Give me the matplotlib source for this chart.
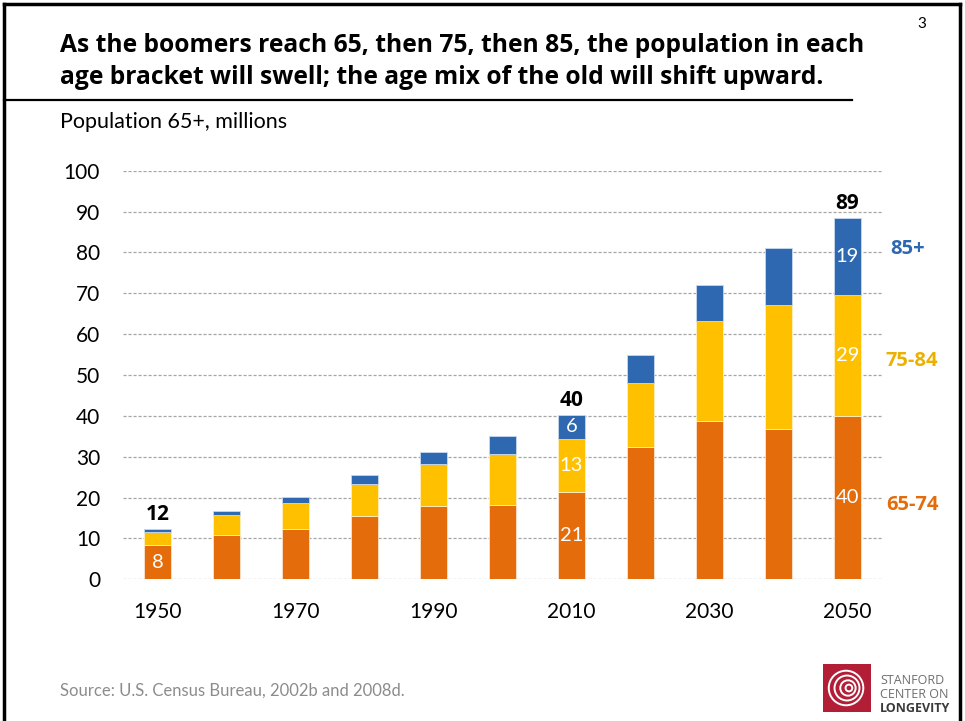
"""Population 65+ by age bracket, stacked bars (slide-style recreation)."""
import matplotlib

matplotlib.use("Agg")
import matplotlib.pyplot as plt
from matplotlib.patches import Rectangle, Circle
from matplotlib.lines import Line2D

plt.rcParams["font.family"] = ["Lato", "DejaVu Sans"]

years = [1950, 1960, 1970, 1980, 1990, 2000, 2010, 2020, 2030, 2040, 2050]
age_65_74 = [8.4, 10.9, 12.4, 15.6, 18.0, 18.3, 21.4, 32.3, 38.7, 36.9, 40.0]
age_75_84 = [3.25, 4.75, 6.2, 7.7, 10.1, 12.4, 13.0, 15.8, 24.6, 30.2, 29.5]
age_85_up = [0.55, 0.95, 1.5, 2.3, 3.1, 4.3, 5.8, 6.7, 8.7, 14.1, 19.0]

# printed labels (only a few bars are annotated)
lab_65_74 = ["8", "", "", "", "", "", "21", "", "", "", "40"]
lab_75_84 = ["", "", "", "", "", "", "13", "", "", "", "29"]
lab_85_up = ["", "", "", "", "", "", "6", "", "", "", "19"]
lab_total = ["12", "", "", "", "", "", "40", "", "", "", "89"]

series_names = ["65-74", "75-84", "85+"]
colors = ["#E46C0A", "#FFC000", "#2E68B1"]
label_colors = ["#E46C0A", "#EBB000", "#2E68B1"]

W, H = 965, 721
fig = plt.figure(figsize=(W / 100, H / 100), dpi=100)


def fx(px):
    return px / W


def fy(py):
    return 1 - py / H


# slide frame + title rule
fig.add_artist(Line2D([fx(4), fx(4)], [fy(4), 0], color="black", lw=2.5))
fig.add_artist(Line2D([fx(4), fx(960)], [fy(4), fy(4)], color="black", lw=2.5))
fig.add_artist(Line2D([fx(960), fx(960)], [fy(4), 0], color="black", lw=2.5))
fig.add_artist(Line2D([fx(4), fx(852)], [fy(100), fy(100)], color="black", lw=1.6))

title_font = ["Open Sans", "DejaVu Sans"]
fig.text(fx(60), fy(45), "As the boomers reach 65, then 75, then 85, the population in each",
         fontsize=17.7, fontweight="bold", va="center", ha="left", family=title_font)
fig.text(fx(60), fy(78), "age bracket will swell; the age mix of the old will shift upward.",
         fontsize=17.7, fontweight="bold", va="center", ha="left", family=title_font)
fig.text(fx(922), fy(24), "3", fontsize=11, va="center", ha="center")
fig.text(fx(60), fy(122), "Population 65+, millions", fontsize=15.5, va="center", ha="left")
fig.text(fx(60), fy(691), "Source: U.S. Census Bureau, 2002b and 2008d.",
         fontsize=12, color="#8C8C8C", va="center", ha="left")

# chart
ax = fig.add_axes([fx(123), fy(579.3), fx(881.7) - fx(123), (579.3 - 170.7) / H])
x = list(range(len(years)))
bw = 0.395
b1 = ax.bar(x, age_65_74, bw, color=colors[0], edgecolor="#FBE3CF", linewidth=0.6, zorder=3)
bottom2 = age_65_74
b2 = ax.bar(x, age_75_84, bw, bottom=bottom2, color=colors[1],
            edgecolor="#FFF0C0", linewidth=0.6, zorder=3)
bottom3 = [a + b for a, b in zip(age_65_74, age_75_84)]
b3 = ax.bar(x, age_85_up, bw, bottom=bottom3, color=colors[2],
            edgecolor="#C9D8EE", linewidth=0.6, zorder=3)

for cont, labs in [(b1, lab_65_74), (b2, lab_75_84), (b3, lab_85_up)]:
    ax.bar_label(cont, labels=labs, label_type="center", color="white", fontsize=14.5)
ax.bar_label(b3, labels=lab_total, padding=3, fontsize=15, fontweight="bold", color="black",
             family=title_font)

ax.set_xlim(-0.5, len(years) - 0.5)
ax.set_ylim(0, 100)
ax.set_yticks(range(0, 101, 10))
ax.set_xticks(x[::2])
ax.set_xticklabels([str(y) for y in years[::2]])
ax.tick_params(axis="both", length=0, labelsize=15)
ax.tick_params(axis="x", pad=16)
ax.tick_params(axis="y", pad=16.5)
ax.grid(axis="y", color="#A6A6A6", linestyle=(0, (2.5, 1.5)), linewidth=0.9, zorder=0)
ax.set_axisbelow(True)
for s in ax.spines.values():
    s.set_visible(False)

# series labels on the right
for name, px, py, c in zip(series_names, [886, 886, 890], [505, 361, 249], label_colors):
    fig.text(fx(px), fy(py), name, fontsize=14.5, fontweight="bold", color=c,
             va="center", ha="left", family=title_font)

# logo
lax = fig.add_axes([fx(823), fy(712), fx(871) - fx(823), 48 / H])
lax.set_xlim(0, 1)
lax.set_ylim(0, 1)
lax.axis("off")
lax.add_patch(Rectangle((0, 0), 1, 1, color="#B31E37"))
for r, cx in [(0.36, 0.48), (0.26, 0.5), (0.16, 0.52), (0.07, 0.54)]:
    lax.add_patch(Circle((cx, 0.5), r, fill=False, ec="white", lw=1.4))
logo_font = ["Open Sans", "DejaVu Sans"]
fig.text(fx(880), fy(680), "STANFORD", fontsize=9, color="#6E6E6E", va="center", family=logo_font)
fig.text(fx(880), fy(694), "CENTER ON", fontsize=9, color="#6E6E6E", va="center", family=logo_font)
fig.text(fx(880), fy(708), "LONGEVITY", fontsize=9, fontweight="bold", color="#3A3A3A",
         va="center", family=logo_font)

fig.savefig("out.png", dpi=100)
